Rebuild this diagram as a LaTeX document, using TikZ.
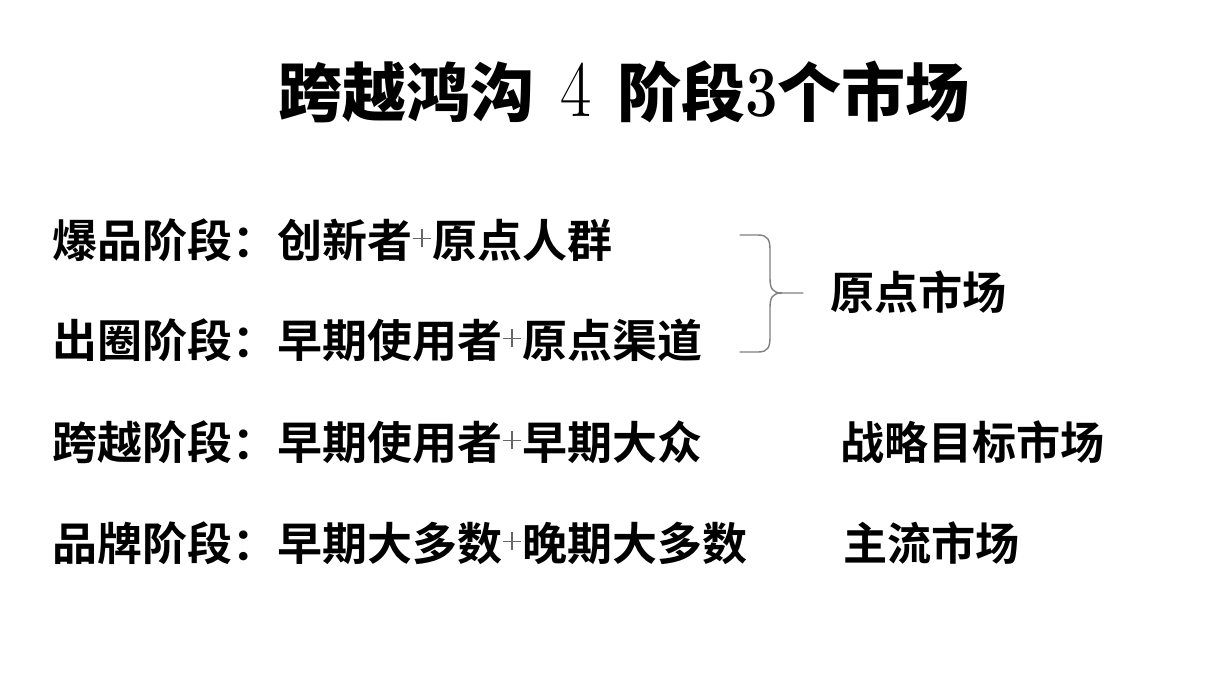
\documentclass[tikz,border=0pt]{standalone}
\usepackage{fontspec}
\newfontfamily\cjkb{Noto Sans CJK SC}[UprightFont={* Bold}]
\newfontfamily\cjkt{Noto Sans CJK SC}[UprightFont={* Black}]
\newcommand{\pls}{\hspace{1pt}\raisebox{19pt}{\color{black!60}\rlap{\rule[-0.75pt]{18pt}{1.5pt}}\hspace{8.25pt}\rule[-9pt]{1.5pt}{18pt}\hspace{8.25pt}}\hspace{1pt}}
\begin{document}
\begin{tikzpicture}[x=1pt,y=-1pt,
  rowtext/.style={anchor=west,inner sep=0pt,font=\cjkb\fontsize{45}{45}\selectfont},
  mkt/.style={anchor=west,inner sep=0pt,font=\cjkb\fontsize{45}{45}\selectfont,xscale=0.98},
  bracestyle/.style={draw=black!50,line width=1.4pt,line cap=round}]
\useasboundingbox (0,0) rectangle (1220,675);
\node[inner sep=0pt,font=\cjkt\fontsize{64}{64}\selectfont] (title) at (624,92)
  {跨越鸿沟\hspace{26pt}{\rmfamily\fontsize{80}{80}\selectfont\scalebox{0.85}[1]{4}}\hspace{26pt}阶段{\rmfamily\bfseries\fontsize{72}{72}\selectfont\scalebox{0.8}[1]{3}}个市场};
\node[rowtext] (r1) at (52,240) {爆品阶段：创新者\pls 原点人群};
\node[rowtext] (r2) at (52,340) {出圈阶段：早期使用者\pls 原点渠道};
\node[rowtext] (r3) at (52,442) {跨越阶段：早期使用者\pls 早期大众};
\node[rowtext] (r4) at (52,543) {品牌阶段：早期大多数\pls 晚期大多数};
\node[mkt] (m1) at (830,292) {原点市场};
\node[mkt] (m2) at (840,442) {战略目标市场};
\node[mkt] (m3) at (843,543) {主流市场};
\coordinate (btop) at (740,235);
\coordinate (bbot) at (740,352);
\coordinate (btip) at (803,293);
\draw[bracestyle] (btop) -- (758,235) .. controls (768,235) and (770,240) .. (770,250)
  -- (770,278) .. controls (770,288) and (772,293) .. (782,293) -- (btip);
\draw[bracestyle] (782,293) .. controls (772,293) and (770,298) .. (770,308)
  -- (770,337) .. controls (770,347) and (768,352) .. (758,352) -- (bbot);
\end{tikzpicture}
\end{document}
